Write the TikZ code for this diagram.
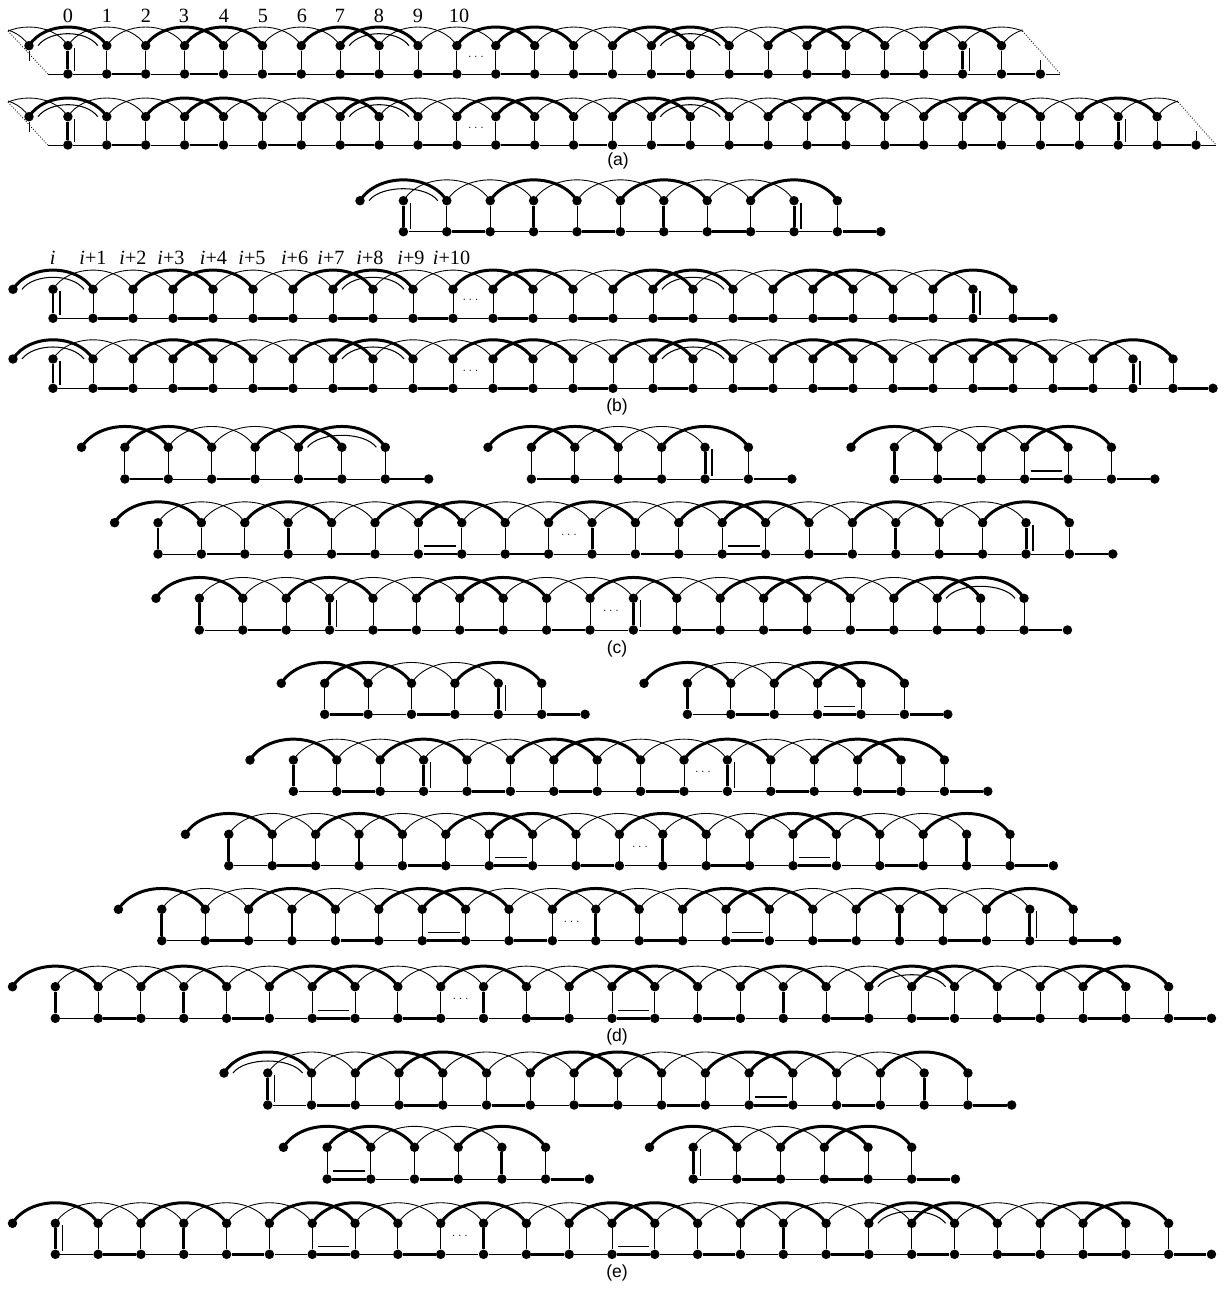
\documentclass[tikz,border=0pt]{standalone}
\usepackage{fontspec}
\setmainfont{Liberation Serif}
\setsansfont{Liberation Sans}
\usepackage{xstring}
\usetikzlibrary{calc}

\tikzset{
  stripdot/.style={circle,fill=black,inner sep=0pt,minimum size=0.19cm},
  thinarc/.style={line width=0.5pt},
  thickarc/.style={line width=1.7pt},
  thinedge/.style={line width=0.55pt},
  thickedge/.style={line width=1.7pt},
  markline/.style={line width=0.6pt},
  toplabel/.style={font=\fontsize{11.5}{12}\selectfont,inner sep=0pt},
  partlabel/.style={font=\sffamily\fontsize{10}{12}\selectfont,inner sep=0pt},
  stripdots/.style={font=\fontsize{6}{7}\selectfont,inner sep=0pt}
}

\newcommand{\archline}[3]{\draw[#1] (#2.center) .. controls +(0.4*\stripdx,-0.64*\stripdx) and +(-0.4*\stripdx,-0.64*\stripdx) .. (#3.center);}

% name, first x, top y, bottom y, spacing, last index, thick arcs, thick uprights, thick bottoms
\newcommand{\strip}[9]{%
  \def\stripdx{#5}%
  \pgfmathtruncatemacro{\lasttop}{#6-1}%
  \pgfmathtruncatemacro{\lastarc}{#6-3}%
  \foreach \k in {0,...,\lasttop}{
    \node[stripdot] (#1t\k) at ({#2+\k*#5},#3) {};
  }
  \foreach \k in {1,...,#6}{
    \node[stripdot] (#1b\k) at ({#2+\k*#5},#4) {};
  }
  \foreach \k in {0,...,\lastarc}{
    \pgfmathtruncatemacro{\kk}{\k+2}%
    \IfSubStr{,#7,}{,\k,}{\def\edgestyle{thickarc}}{\def\edgestyle{thinarc}}%
    \archline{\edgestyle}{#1t\k}{#1t\kk}
  }
  \foreach \k in {1,...,\lasttop}{
    \IfSubStr{,#8,}{,\k,}{\def\edgestyle{thickedge}}{\def\edgestyle{thinedge}}%
    \draw[\edgestyle] (#1t\k) -- (#1b\k);
  }
  \foreach \k in {1,...,\lasttop}{
    \pgfmathtruncatemacro{\kk}{\k+1}%
    \IfSubStr{,#9,}{,\k,}{\def\edgestyle{thickedge}}{\def\edgestyle{thinedge}}%
    \draw[\edgestyle] (#1b\k) -- (#1b\kk);
  }
}

\newcommand{\innerarcs}[2]{%
  \foreach \k in {#2}{
    \pgfmathtruncatemacro{\kk}{\k+2}%
    \coordinate (#1ia\k) at ($(#1t\k)+(9,0)$);
    \coordinate (#1ib\k) at ($(#1t\kk)+(-9,0)$);
    \draw[markline] (#1ia\k) .. controls +(12,-16) and +(-12,-16) .. (#1ib\k);
  }
}

\newcommand{\innerups}[2]{%
  \foreach \k in {#2}{
    \draw[markline] ($(#1t\k)+(7,2)$) -- ($(#1b\k)+(7,-3)$);
  }
}

\newcommand{\innerbars}[2]{%
  \foreach \k in {#2}{
    \pgfmathtruncatemacro{\kk}{\k+1}%
    \draw[markline] ($(#1b\k)+(6,-8)$) -- ($(#1b\kk)+(-6,-8)$);
  }
}

% the cut ends of the two rows in (a)
\newcommand{\wrapends}[2]{%
  \pgfmathtruncatemacro{\ntwo}{#2-2}%
  \pgfmathtruncatemacro{\none}{#2-1}%
  \coordinate (#1p) at ($(#1t0)+(-78,0)$);
  \coordinate (#1q) at ($(#1t0)+(-39,0)$);
  \coordinate (#1r) at ($(#1t\ntwo)+(78,0)$);
  \coordinate (#1s) at ($(#1t\none)+(78,0)$);
  \coordinate (#1x) at ($(#1t0)+(-21,-14.7)$);
  \coordinate (#1y) at ($(#1b1)+(-20,0)$);
  \coordinate (#1z) at ($(#1b#2)+(20,0)$);
  \coordinate (#1w) at ($(#1t\none)+(21,-14.7)$);
  \coordinate (#1u) at ($(#1t0)+(0,15)$);
  \coordinate (#1v) at ($(#1b#2)+(0,-14)$);
  \begin{scope}
    \clip (#1x) -- (#1y) -- (#1z) -- (#1w) -- ($(#1w)+(0,-25)$) -- ($(#1x)+(0,-25)$) -- cycle;
    \archline{thinarc}{#1p}{#1t0}
    \archline{thinarc}{#1q}{#1t1}
    \archline{thinarc}{#1t\ntwo}{#1r}
    \archline{thinarc}{#1t\none}{#1s}
  \end{scope}
  \draw[thinedge] (#1y) -- (#1b1);
  \draw[thinedge] (#1b#2) -- (#1z);
  \draw[thinedge] (#1t0) -- (#1u);
  \draw[thinedge] (#1v) -- (#1b#2);
  \draw[thinarc,densely dotted] (#1x) -- (#1y);
  \draw[thinarc,densely dotted] (#1w) -- (#1z);
}

\newcommand{\ipl}[1]{\textit{i}+#1}

\begin{document}
\begin{tikzpicture}[x=0.02cm,y=-0.02cm]

  \useasboundingbox (0,0) rectangle (1224,1290);

  \foreach \lx/\ltext [count=\ln] in {68/0,107/1,146/2,184/3,224/4,263/5,302/6,340/7,379/8,418/9,459/10}{
    \node[toplabel] (num\ln) at (\lx,16) {\ltext};
  }

  \strip{aa}{29}{45.7}{74}{38.9}{26}{0,3,4,7,8,11,12,15,16,19,20,23}{1,24}{2,4,6,8,10,12,14,16,18,20,22,25}
  \innerarcs{aa}{0,8,16}
  \innerups{aa}{1,24}
  \wrapends{aa}{26}
  \node[stripdots] (aadots) at (476,56.5) {$\cdots$};

  \strip{ab}{29}{116.7}{145}{38.9}{30}{0,3,4,7,8,11,12,15,16,19,20,23,24,27}{1,28}{2,4,6,8,10,12,14,16,18,20,22,24,26,29}
  \innerarcs{ab}{0,8,16}
  \innerups{ab}{1,28}
  \wrapends{ab}{30}
  \node[stripdots] (abdots) at (476,128) {$\cdots$};

  \node[partlabel] (parta) at (618,161) {(a)};

  \strip{ac}{360}{200.7}{231.7}{43.4}{12}{0,3,6,9}{1,4,7,10}{2,5,8,11}
  \innerarcs{ac}{0}
  \innerups{ac}{1,10}

  \node[toplabel] (labi) at (52.6,258) {\textit{i}};
  \foreach \lx/\ltext [count=\ln] in {93/\ipl{1},133/\ipl{2},171/\ipl{3},213.5/\ipl{4},252/\ipl{5},294.6/\ipl{6},331/\ipl{7},370/\ipl{8},411/\ipl{9},451.5/\ipl{10}}{
    \node[toplabel] (lab\ln) at (\lx,258) {\ltext};
  }

  \strip{ba}{13}{289.3}{318.3}{40}{26}{0,3,4,7,8,11,12,15,16,19,20,23}{1,24}{2,4,6,8,10,12,14,16,18,20,22,25}
  \innerarcs{ba}{0,8,16}
  \innerups{ba}{1,24}
  \node[stripdots] (badots) at (470.5,300) {$\cdots$};

  \strip{bb}{13}{359}{388.3}{40}{30}{0,3,4,7,8,11,12,15,16,19,20,23,24,27}{1,28}{2,4,6,8,10,12,14,16,18,20,22,24,26,29}
  \innerarcs{bb}{0,8,16}
  \innerups{bb}{1,28}
  \node[stripdots] (bbdots) at (470.5,371) {$\cdots$};

  \node[partlabel] (partb) at (617,407) {(b)};

  \strip{ca}{81.5}{447.3}{479}{43.4}{8}{0,1,4,5}{}{1,3,5,7}
  \innerarcs{ca}{5}

  \strip{cb}{488}{447.3}{479}{43.4}{7}{0,1,4}{5}{1,3,6}
  \innerups{cb}{5}

  \strip{cc}{851}{447.3}{479}{43.4}{7}{0,3,4}{1}{2,4,6}
  \innerbars{cc}{4}

  \strip{cd}{114.6}{522.7}{554}{43.4}{23}{0,3,6,7,10,13,14,17,20}{1,4,11,18,21}{2,5,7,9,12,14,16,19,22}
  \innerbars{cd}{7,14}
  \innerups{cd}{21}
  \node[stripdots] (cddots) at (569,535) {$\cdots$};

  \strip{ce}{156}{598.3}{630}{43.4}{21}{0,3,6,7,10,13,14,17,18}{1,4,11}{2,5,7,9,12,14,16,18,20}
  \innerarcs{ce}{18}
  \innerups{ce}{4,11}
  \node[stripdots] (cedots) at (611,610.5) {$\cdots$};

  \node[partlabel] (partc) at (617,649) {(c)};

  \strip{da}{281.3}{683.3}{714.3}{43.4}{7}{0,1,4}{5}{1,3,6}
  \innerups{da}{5}

  \strip{db}{644}{683.3}{714.3}{43.4}{7}{0,3,4}{1}{2,4,6}
  \innerbars{db}{4}

  \strip{dc}{250}{760}{791.3}{43.4}{17}{0,3,6,7,10,13,14}{1,4,11}{2,5,7,9,12,14,16}
  \innerups{dc}{4,11}
  \node[stripdots] (dcdots) at (703,772) {$\cdots$};

  \strip{dd}{185.4}{834.3}{865.7}{43.4}{20}{0,3,6,7,10,13,14,17}{1,4,11,18}{2,5,7,9,12,14,16,19}
  \innerbars{dd}{7,14}
  \node[stripdots] (dddots) at (640,846.5) {$\cdots$};

  \strip{de}{118.4}{909.3}{940.7}{43.4}{23}{0,3,6,7,10,13,14,17,20}{1,4,11,18,21}{2,5,7,9,12,14,16,19,22}
  \innerbars{de}{7,14}
  \innerups{de}{21}
  \node[stripdots] (dedots) at (571.7,922) {$\cdots$};

  \strip{df}{12.5}{986.7}{1018.3}{42.82}{28}{0,3,6,7,10,13,14,17,20,21,24,25}{1,4,11,18}{2,5,7,9,12,14,16,19,21,23,25,27}
  \innerarcs{df}{20}
  \innerbars{df}{7,14}
  \node[stripdots] (dfdots) at (460.6,999) {$\cdots$};

  \node[partlabel] (partd) at (617,1037) {(d)};

  \strip{ea}{224}{1073}{1105}{43.76}{18}{0,3,4,7,8,11,12,15}{1,16}{2,4,6,8,10,12,14,17}
  \innerarcs{ea}{0}
  \innerups{ea}{1}
  \innerbars{ea}{12}

  \strip{eb}{283.4}{1147.3}{1179}{43.7}{7}{0,1,4}{5}{1,3,6}
  \innerbars{eb}{1}

  \strip{ec}{649.5}{1147.3}{1179}{43.7}{7}{0,3,4}{1}{2,4,6}
  \innerups{ec}{1}

  \strip{ed}{12.5}{1223.3}{1254.3}{42.82}{28}{0,3,6,7,10,13,14,17,20,21,24,25}{1,4,11,18}{2,5,7,9,12,14,16,19,21,23,25,27}
  \innerarcs{ed}{20}
  \innerbars{ed}{7,14}
  \innerups{ed}{1}
  \node[stripdots] (eddots) at (459.8,1236) {$\cdots$};

  \node[partlabel] (parte) at (617,1273) {(e)};

\end{tikzpicture}
\end{document}
